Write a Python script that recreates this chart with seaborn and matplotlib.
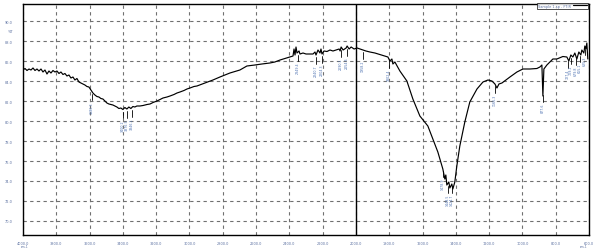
import matplotlib
matplotlib.use("Agg")
import matplotlib.pyplot as plt
import seaborn as sns
import pandas as pd
import numpy as np
from matplotlib.ticker import AutoMinorLocator, FormatStrFormatter

# ---- data (wavenumber cm-1, %T) ----
wavenumber = [
    4000, 3988, 3976, 3964, 3952, 3940, 3928, 3916, 3904, 3892, 3880, 3868, 3856, 3844,
    3832, 3820, 3808, 3796, 3784, 3772, 3760, 3748, 3736, 3724, 3712, 3700, 3688, 3676,
    3664, 3652, 3640, 3628, 3616, 3604, 3592, 3580, 3568, 3556, 3544, 3532, 3520, 3508,
    3496, 3484, 3472, 3460, 3448, 3436, 3424, 3412, 3400, 3388, 3376, 3364, 3352, 3340,
    3328, 3316, 3298, 3279, 3255, 3237, 3219, 3195, 3177, 3159, 3135, 3117, 3093, 3075,
    3057, 3033, 3015, 2997, 2973, 2955, 2907, 2859, 2817, 2757, 2697, 2655, 2607, 2565,
    2517, 2487, 2456, 2426, 2396, 2378, 2372, 2366, 2360, 2354, 2342, 2336, 2318, 2300,
    2276, 2258, 2246, 2240, 2228, 2216, 2210, 2204, 2192, 2174, 2156, 2138, 2119, 2101,
    2095, 2089, 2077, 2059, 2053, 2041, 2029, 2011, 1993, 1975, 1957, 1940, 1916, 1886,
    1856, 1826, 1808, 1796, 1784, 1778, 1766, 1736, 1694, 1658, 1616, 1568, 1538, 1508,
    1478, 1466, 1460, 1454, 1442, 1436, 1424, 1418, 1406, 1394, 1376, 1346, 1316, 1273,
    1237, 1207, 1183, 1165, 1153, 1141, 1123, 1075, 1033, 997, 955, 913, 895, 883,
    877, 871, 853, 835, 817, 793, 757, 733, 721, 709, 697, 685, 673, 661,
    649, 643, 631, 625, 619, 613, 607,
]
transmittance = [
    85.10, 85.25, 85.05, 85.20, 85.10, 85.30, 85.05, 85.20, 85.00, 85.20, 84.90, 85.10, 84.70, 85.00,
    84.80, 85.05, 84.90, 85.00, 84.75, 84.90, 84.65, 84.75, 84.50, 84.60, 84.30, 84.40, 84.10, 84.25,
    83.90, 83.80, 83.70, 83.60, 83.45, 83.40, 83.10, 82.80, 82.60, 82.45, 82.40, 82.25, 82.20, 82.00,
    81.80, 81.70, 81.65, 81.60, 81.50, 81.40, 81.25, 81.30, 81.15, 81.35, 81.20, 81.40, 81.25, 81.45,
    81.40, 81.50, 81.50, 81.55, 81.65, 81.70, 81.85, 82.00, 82.15, 82.30, 82.40, 82.50, 82.65, 82.80,
    82.90, 83.05, 83.20, 83.30, 83.45, 83.50, 83.80, 84.10, 84.40, 84.80, 85.10, 85.50, 85.60, 85.70,
    85.80, 85.90, 86.10, 86.25, 86.40, 86.50, 87.20, 86.60, 87.40, 86.80, 87.00, 86.70, 86.80, 86.70,
    86.70, 86.70, 86.90, 86.60, 87.10, 86.80, 87.20, 86.70, 87.00, 86.95, 87.10, 87.00, 87.10, 87.20,
    87.00, 87.40, 87.10, 87.30, 87.50, 87.20, 87.40, 87.20, 87.30, 87.20, 87.10, 87.00, 86.90, 86.80,
    86.65, 86.50, 86.40, 86.00, 86.20, 85.70, 85.90, 85.00, 84.00, 82.20, 80.50, 79.50, 78.20, 76.90,
    75.20, 74.20, 74.60, 73.60, 73.90, 73.30, 73.70, 73.20, 73.90, 75.50, 77.50, 79.90, 81.90, 83.20,
    83.90, 84.10, 84.00, 83.70, 83.30, 83.70, 83.80, 84.40, 84.90, 85.20, 85.20, 85.25, 85.40, 85.60,
    82.50, 85.20, 85.60, 85.90, 86.20, 86.20, 86.45, 86.40, 86.00, 86.60, 86.40, 86.80, 86.20, 86.90,
    86.60, 87.10, 86.80, 87.50, 87.20, 87.80, 86.20,
]

peak_positions = [3586.3, 3400.2, 3376.5, 3346.1, 2349.4, 2240.7, 2204.3, 2090.1, 2054.6,
                  1958.2, 1802.4, 1478.9, 1448.5, 1424.7, 1165.3, 877.6, 727.4, 709.2,
                  679.8, 655.1, 625.3]

x_ticks = [4000, 3800, 3600, 3400, 3200, 3000, 2800, 2600, 2400, 2200, 2000,
           1800, 1600, 1400, 1200, 1000, 800, 600]
y_ticks = [70, 72, 74, 76, 78, 80, 82, 84, 86, 88, 90]
cursor_position = 2000
legend_label = "Sample 1.sp - FTIR"

df = pd.DataFrame({"wavenumber": wavenumber, "T": transmittance})

sns.set_style("white")
fig = plt.figure(figsize=(5.95, 2.51), dpi=100)
ax = fig.add_axes([23/595, 15/251, 566/595, 231/251])

sns.lineplot(data=df, x="wavenumber", y="T", ax=ax, color="black", lw=0.85,
             estimator=None, sort=False, label=legend_label)

ax.set_xlim(4000, 600)
ax.set_ylim(68.6, 91.7)
ax.set_xticks(x_ticks)
ax.set_yticks(y_ticks)
ax.xaxis.set_minor_locator(AutoMinorLocator(5))
ax.yaxis.set_minor_locator(AutoMinorLocator(5))
ax.xaxis.set_major_formatter(FormatStrFormatter("%.1f"))
ax.yaxis.set_major_formatter(FormatStrFormatter("%.1f"))
ax.grid(True, which="major", linestyle=(0, (3, 3)), color="#707070", lw=0.8)
ax.set_xlabel("")
ax.set_ylabel("")
for s in ax.spines.values():
    s.set_color("black")
    s.set_linewidth(1.0)
ax.tick_params(axis="both", which="major", direction="out", labelsize=2.5,
               length=6, width=0.8, pad=1.5, colors="black", labelcolor="#5a6fa0")
ax.tick_params(axis="both", which="minor", direction="out", length=3, width=0.8)
ax.tick_params(axis="x", which="major", length=3)
ax.tick_params(axis="x", which="minor", length=2)

ax.axvline(cursor_position, color="black", lw=1.0)

# peak markers
wn_arr = np.array(wavenumber)[::-1]
t_arr = np.array(transmittance)[::-1]
for p in peak_positions:
    t = np.interp(p, wn_arr, t_arr)
    ax.plot([p, p], [t - 0.25, t - 0.9], color="black", lw=0.6)
    ax.text(p, t - 0.95, f"{p:.1f}", rotation=90, fontsize=2.3, color="#4a6fb0",
            ha="center", va="top")

fig.text(8/595, 1 - 32/251, "%T", fontsize=2.5, color="#5a6fa0", ha="left", va="center")
fig.text(25/595, 1 - 247/251, "cm-1", fontsize=2.2, color="#5a6fa0", ha="center", va="center")
fig.text(584/595, 1 - 247/251, "cm-1", fontsize=2.2, color="#5a6fa0", ha="center", va="center")

leg = ax.legend(loc="upper right", bbox_to_anchor=(0.998, 1.006), fontsize=2.5,
                frameon=True, fancybox=False, borderpad=0.3, handlelength=4,
                handletextpad=0.5, borderaxespad=0, markerfirst=False)
leg.get_frame().set_edgecolor("black")
leg.get_frame().set_linewidth(0.6)
for t in leg.get_texts():
    t.set_color("#5a6fa0")

fig.savefig("out.png", dpi=100)
